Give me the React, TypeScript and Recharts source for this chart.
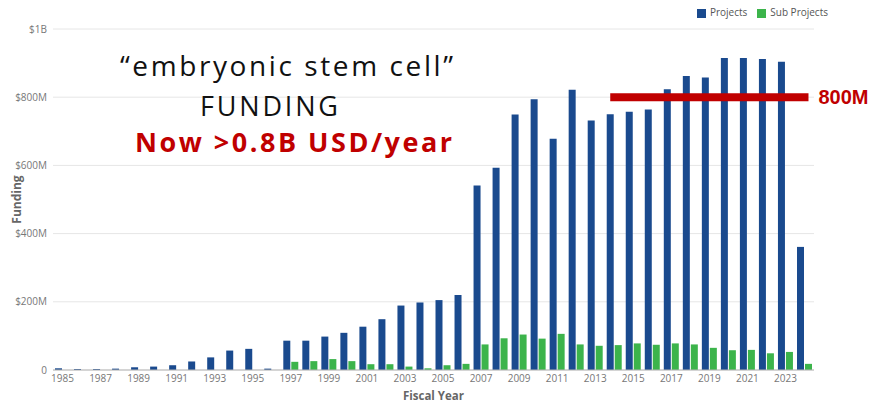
import { BarChart, Bar, XAxis, YAxis, CartesianGrid, Legend, ReferenceLine } from 'recharts'

// fiscal years and funding in millions of USD
const years = [
  '1985', '1986', '1987', '1988', '1989', '1990', '1991', '1992', '1993', '1994',
  '1995', '1996', '1997', '1998', '1999', '2000', '2001', '2002', '2003', '2004',
  '2005', '2006', '2007', '2008', '2009', '2010', '2011', '2012', '2013', '2014',
  '2015', '2016', '2017', '2018', '2019', '2020', '2021', '2022', '2023', '2024',
]

const projects = [
  5, 3, 3, 4, 8, 10, 14, 25, 37, 57,
  62, 4, 86, 86, 98, 109, 127, 149, 189, 198,
  205, 220, 541, 593, 749, 794, 678, 822, 732, 750,
  757, 764, 823, 862, 858, 915, 915, 912, 904, 361,
]

const subProjects = [
  0, 0, 0, 0, 0, 0, 0, 0, 0, 0,
  0, 0, 24, 26, 32, 26, 17, 17, 10, 5,
  14, 18, 75, 93, 104, 92, 106, 75, 71, 73,
  78, 74, 78, 75, 65, 58, 59, 49, 53, 18,
]

const yTicks = [0, 200, 400, 600, 800, 1000]
const targetLevel = 800
const targetFrom = '2014'
const targetTo = '2024'

const data = years.map((year, i) => ({
  year,
  projects: projects[i],
  subProjects: subProjects[i],
}))

const BLUE = '#1a4a8e'
const GREEN = '#3cb44b'
const RED = '#c00000'
const FONT = '"Open Sans", "Segoe UI", sans-serif'

function fmtFunding(v: number) {
  if (v === 0) return '0'
  if (v >= 1000) return `$${v / 1000}B`
  return `$${v}M`
}

export default function App() {
  return (
    <div style={{ position: 'absolute', left: 0, top: 0, width: 883, height: 402, background: '#fff', fontFamily: FONT }}>
      <BarChart
        width={883}
        height={402}
        data={data}
        margin={{ top: 9, right: 69, left: 0, bottom: 0 }}
        barSize={7}
        barGap={1}
      >
        <CartesianGrid vertical={false} stroke="#e6e6e6" />
        <XAxis
          dataKey="year"
          interval={1}
          height={32}
          tickLine={false}
          axisLine={{ stroke: '#b5b5b5' }}
          tickSize={5}
          tickMargin={0}
          tick={{ fontSize: 10, fill: '#777', fontFamily: FONT }}
          label={{ value: 'Fiscal Year', position: 'insideBottom', offset: 2, fontSize: 11.5, fontWeight: 700, fill: '#666', fontFamily: FONT }}
        />
        <YAxis
          width={53}
          domain={[0, 1000]}
          ticks={yTicks}
          tickFormatter={fmtFunding}
          axisLine={false}
          tickLine={false}
          tickSize={4}
          tickMargin={2}
          tick={{ fontSize: 10, fill: '#777', fontFamily: FONT }}
          label={{ value: 'Funding', angle: -90, position: 'insideLeft', offset: 17, fontSize: 12, fontWeight: 700, fill: '#666', fontFamily: FONT, style: { textAnchor: 'middle' } }}
        />
        <Legend
          verticalAlign="top"
          align="right"
          iconType="square"
          iconSize={9}
          height={20}
          wrapperStyle={{ top: 5, right: 45, fontSize: 10, fontFamily: FONT }}
          formatter={(value: string) => <span style={{ color: '#555' }}>{value}</span>}
        />
        <Bar dataKey="projects" name="Projects" fill={BLUE} isAnimationActive={false} />
        <Bar dataKey="subProjects" name="Sub Projects" fill={GREEN} isAnimationActive={false} />
        <ReferenceLine
          segment={[{ x: targetFrom, y: targetLevel }, { x: targetTo, y: targetLevel }]}
          stroke={RED}
          strokeWidth={8}
          strokeLinecap="square"
          label={{ value: '800M', position: 'right', offset: 14, fill: RED, fontSize: 20, fontWeight: 700, fontFamily: '"Liberation Sans", Arial, sans-serif' }}
        />
      </BarChart>
      <svg width={883} height={402} style={{ position: 'absolute', left: 0, top: 0, pointerEvents: 'none' }}>
        <g fontFamily='"Open Sans", Arial, sans-serif'>
          <text x={120} y={76} fontSize={28} fill="#111" textLength={333} lengthAdjust="spacing">“embryonic stem cell”</text>
          <text x={200} y={116} fontSize={27} fill="#111" textLength={138} lengthAdjust="spacing">FUNDING</text>
          <text x={135} y={152} fontSize={27} fontWeight={700} fill={RED} textLength={317} lengthAdjust="spacing">Now &gt;0.8B USD/year</text>
        </g>
      </svg>
    </div>
  )
}
